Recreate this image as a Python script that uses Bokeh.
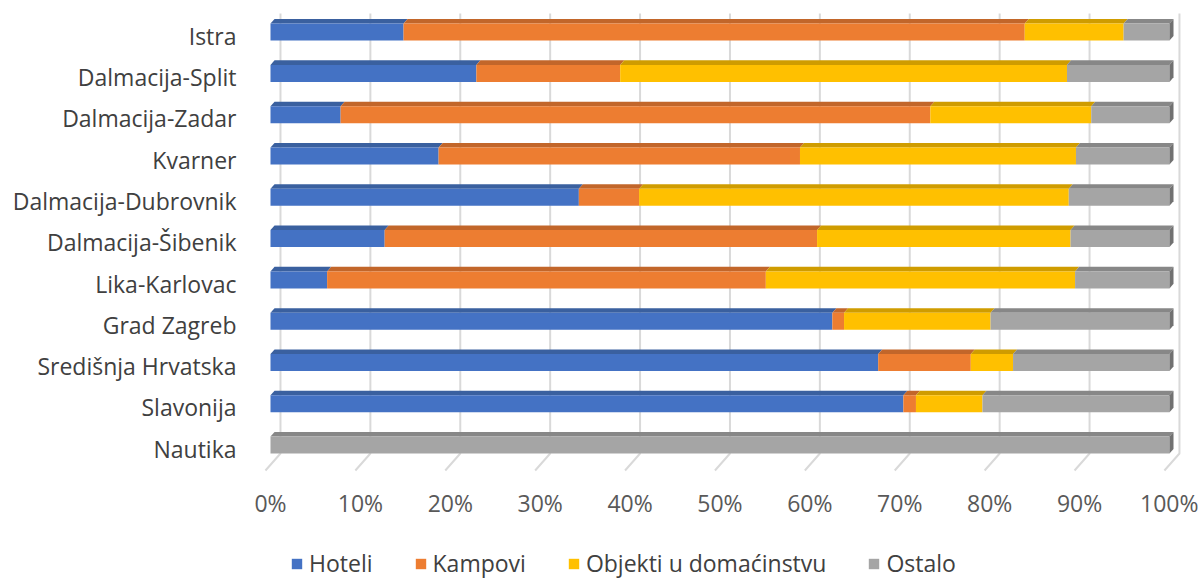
from bokeh.plotting import figure
from bokeh.models import FixedTicker, Legend, LegendItem, ColumnDataSource
from bokeh.layouts import column
from bokeh.embed import file_html
from bokeh.resources import INLINE

# ---------------- data (percent shares) ----------------
categories = ["Istra", "Dalmacija-Split", "Dalmacija-Zadar", "Kvarner",
              "Dalmacija-Dubrovnik", "Dalmacija-Šibenik", "Lika-Karlovac",
              "Grad Zagreb", "Središnja Hrvatska", "Slavonija", "Nautika"]
series_names = ["Hoteli", "Kampovi", "Objekti u domaćinstvu", "Ostalo"]
hoteli  = [14.8, 22.9, 7.8, 18.7, 34.3, 12.7, 6.3, 62.5, 67.6, 70.4, 0.0]
kampovi = [69.1, 16.0, 65.6, 40.2, 6.7, 48.1, 48.8, 1.3, 10.3, 1.4, 0.0]
objekti = [11.0, 49.7, 17.9, 30.7, 47.8, 28.2, 34.4, 16.3, 4.7, 7.4, 0.0]
ostalo  = [5.1, 11.4, 8.7, 10.4, 11.2, 11.0, 10.5, 19.9, 17.4, 20.8, 100.0]
tick_values = [0, 10, 20, 30, 40, 50, 60, 70, 80, 90, 100]
tick_labels = ["0%", "10%", "20%", "30%", "40%", "50%", "60%", "70%", "80%", "90%", "100%"]

colors = ["#4472C4", "#ED7D31", "#FFC000", "#A5A5A5"]
top_colors = ["#3A609F", "#C2662A", "#CF9C00", "#878787"]
side_colors = ["#2F4F85", "#A65724", "#AD8300", "#717171"]

# ---------------- geometry (style) ----------------
n = len(categories)
ypos = [n - 1 - i for i in range(n)]       # Istra at top
bar_shift = 0.09                             # bar centre vs label
bar_h = 0.412                                # front face height
depth_dx = 0.45                              # 3D depth in x units
depth_dy = 0.11                              # 3D depth in y units
grid_back_dx = 1.11
grid_front_dx = -0.56
grid_top = 10.54
grid_floor_back = -0.114
grid_floor_front = -0.525

W = 1198
H_MAIN = 539
H_LEG = 40
LEFT = 256

p = figure(width=W, height=H_MAIN, output_backend="svg", toolbar_location=None,
           x_range=(-1.557, 103.23), y_range=(-0.574, 10.855),
           min_border_left=LEFT, min_border_right=0, min_border_top=0,
           min_border_bottom=H_MAIN - 472)
p.outline_line_color = None
p.xgrid.visible = False
p.ygrid.visible = False

# gridlines (back wall + floor diagonal)
for t in tick_values:
    p.line(x=[t + grid_back_dx, t + grid_back_dx, t + grid_front_dx],
           y=[grid_top, grid_floor_back, grid_floor_front],
           line_color="#D9D9D9", line_width=2)

series = [hoteli, kampovi, objekti, ostalo]
lefts = [[0.0] * n]
for s in series[:-1]:
    lefts.append([a + b for a, b in zip(lefts[-1], s)])
rights = [[a + b for a, b in zip(l, s)] for l, s in zip(lefts, series)]

for k, name in enumerate(series_names):
    yc = [y + bar_shift for y in ypos]
    ytop = [y + bar_h / 2 for y in yc]
    xs, ys = [], []
    for i in range(n):
        x0, x1 = lefts[k][i], rights[k][i]
        if x1 - x0 <= 0:
            continue
        xs.append([x0, x1, x1 + depth_dx, x0 + depth_dx])
        ys.append([ytop[i], ytop[i], ytop[i] + depth_dy, ytop[i] + depth_dy])
    if xs:
        p.patches(xs=xs, ys=ys, fill_color=top_colors[k], line_color=None)
    src = ColumnDataSource(dict(y=yc, left=lefts[k], right=rights[k]))
    p.hbar(y="y", left="left", right="right", height=bar_h, source=src,
           fill_color=colors[k], line_color=None)

# right side faces of the last segment
sx, sy, sc = [], [], []
for i in range(n):
    last = max(k for k in range(4) if series[k][i] > 0)
    xe = rights[last][i]
    yc = ypos[i] + bar_shift
    yb, yt = yc - bar_h / 2, yc + bar_h / 2
    sx.append([xe, xe, xe + depth_dx, xe + depth_dx])
    sy.append([yb, yt, yt + depth_dy, yb + depth_dy])
    sc.append(side_colors[last])
p.patches(xs=sx, ys=sy, fill_color=sc, line_color=None)

# axes
p.yaxis.ticker = FixedTicker(ticks=ypos)
p.yaxis.major_label_overrides = {y: c for y, c in zip(ypos, categories)}
p.yaxis.axis_line_color = None
p.yaxis.major_tick_line_color = None
p.yaxis.minor_tick_line_color = None
p.yaxis.major_label_standoff = 14
p.yaxis.major_label_text_font = "Open Sans"
p.yaxis.major_label_text_font_size = "23px"
p.yaxis.major_label_text_color = "#404040"

p.xaxis.ticker = FixedTicker(ticks=tick_values)
p.xaxis.major_label_overrides = {t: l for t, l in zip(tick_values, tick_labels)}
p.xaxis.axis_line_color = None
p.xaxis.major_tick_line_color = None
p.xaxis.minor_tick_line_color = None
p.xaxis.major_label_standoff = 8
p.xaxis.major_label_text_font = "Open Sans"
p.xaxis.major_label_text_font_size = "23px"
p.xaxis.major_label_text_color = "#595959"

# ---------------- legend strip ----------------
lg = figure(width=W, height=H_LEG, output_backend="svg", toolbar_location=None,
            x_range=(0, 1), y_range=(0, 1), x_axis_type=None, y_axis_type=None,
            min_border_left=LEFT, min_border_right=0, min_border_top=0, min_border_bottom=0)
lg.outline_line_color = None
lg.grid.visible = False
items = []
for k, name in enumerate(series_names):
    # placeholder glyph kept outside the visible range; only its legend swatch shows
    r = lg.hbar(y=[5], left=[5], right=[6], height=0.5, fill_color=colors[k], line_color=None)
    items.append(LegendItem(label=name, renderers=[r]))
legend = Legend(items=items, orientation="horizontal", location=(290 - LEFT, 0),
                glyph_width=13, glyph_height=13, label_standoff=6, spacing=41,
                padding=0, margin=0, border_line_color=None, background_fill_alpha=0,
                label_text_font="Open Sans", label_text_font_size="23px",
                label_text_color="#404040", label_height=20)
lg.add_layout(legend, "center")

layout = column(p, lg, spacing=0)
open("out.html", "w").write(file_html(layout, INLINE))
